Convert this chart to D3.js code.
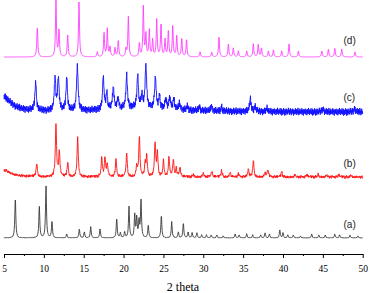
<!DOCTYPE html>
<html>
<head>
<meta charset="utf-8">
<script src="https://cdn.jsdelivr.net/npm/d3@7"></script>
<style>
  html, body { margin: 0; padding: 0; background: #fff; }
  svg { display: block; }
</style>
</head>
<body>
<div id="chart"></div>
<script>
// peak lists: [2theta, height, (optional half-width)]
const peaksA = [[6.42,41],[9.43,32],[10.27,53],[11.02,17],[12.87,4],[14.45,9],[15.08,6],[15.88,11],[17.05,9],
  [19.14,20],[19.6,5],[20.14,6],[20.68,31],[21.4,23],[21.65,20],[21.94,17],[22.19,38],[23.1,13],[24.74,23],
  [26.04,16],[26.87,6],[27.5,15],[28.1,6],[28.6,5],[29.2,5],[29.8,3],[30.4,3],[31.0,3],[31.7,3],[32.5,2],
  [34.0,4],[34.5,3],[35.45,4],[36.2,3],[37.2,3],[37.75,5],[38.3,4],[39.6,8],[40.0,5],[40.6,3],[41.3,3],
  [42.2,2],[43.6,4],[44.5,3],[45.3,3],[46.5,4],[47.1,3],[48.4,3],[49.4,2]];

const peaksB = [[5.0,7,1.0],[9.1,14],[11.52,52],[11.94,25],[12.99,15],[14.24,39],[17.26,19],[17.67,19],[17.96,13],
  [19.05,17],[20.39,23],[21.65,10],[21.98,40],[22.7,12],[22.9,20],[23.95,33],[24.24,23],[25.0,16],[25.7,20],
  [26.24,17],[26.6,8],[27.08,10],[28.75,3],[30.0,4],[31.06,6],[32.3,7],[33.36,5],[34.4,3],[35.65,7],[36.28,17],
  [37.75,4],[38.1,8],[39.84,5],[41.5,2],[43.0,2],[44.4,3],[45.5,2],[47.0,2],[48.5,2]];

const peaksC = [[4.8,16,1.2],[22,4,5],[8.97,28],[11.4,32],[11.82,33],[12.87,33],[14.2,46],[17.46,32],[17.9,15],
  [18.71,22],[19.3,10],[20.39,33],[21.77,32],[22.3,12],[22.8,43],[23.99,31],[24.5,12],[25.3,10],[25.8,12],
  [26.3,10],[27.0,7],[28.0,4],[29.5,4],[31.0,5],[32.3,4],[35.9,13],[36.5,5],[38.0,3],[45.0,3],[49.0,3]];

const peaksD = [[9.18,31],[11.52,56],[11.9,28],[12.99,22],[14.41,56],[16.71,5],[17.55,24],[17.96,28],[18.3,10],
  [18.93,9],[19.34,17],[20.3,8],[20.6,40],[21.98,14],[22.48,50],[22.8,22],[23.23,27],[23.65,17],[24.16,37],
  [24.7,34],[25.2,17],[25.62,27],[26.17,31],[26.67,21],[27.3,19],[27.9,18],[29.6,5],[31.06,5],[31.97,20],
  [33.15,13],[33.77,9],[34.4,6],[35.45,6],[36.28,13],[36.9,13],[37.3,9],[38.17,6],[38.8,7],[39.84,6],
  [40.76,13],[41.93,6],[44.87,6],[45.7,8],[46.5,9],[47.37,8],[49.04,5]];

// hand-typed jitter for the noisy patterns
const jitter = [0.3,-0.8,0.5,-0.2,0.9,-0.6,0.1,-1.0,0.7,-0.3,0.4,-0.9,0.8,0.0,-0.5,0.6,-0.7,0.2,-0.4,1.0,
  -0.1,0.5,-0.8,0.3,-0.6,0.9,-0.2,0.7,-0.9,0.1,0.4,-0.5,0.8,-0.3,0.6,-1.0,0.2,-0.7,0.5,0.0,-0.4,0.9,-0.6,
  0.3,-0.8,0.7,-0.1,0.4,-0.5,1.0,-0.9,0.2,-0.3,0.6,-0.7,0.8,-0.2,0.1,-0.6,0.5,-0.4,0.9,-0.8,0.3,-0.1,0.7,
  -1.0,0.4,-0.3,0.6,-0.5,0.2,0.8,-0.7,0.0,-0.2,0.5,-0.9,0.7,-0.4,0.3,-0.6,1.0,-0.1,0.2,-0.8,0.6,-0.3,0.4,
  -0.5,0.9,-0.7,0.1,-0.2,0.8,-1.0,0.5];

const seriesNames = ['(a)', '(b)', '(c)', '(d)'];
const seriesPeaks = [peaksA, peaksB, peaksC, peaksD];
const seriesColors = ['#3a3a3a', '#ff1010', '#1010ff', '#ff40ff'];
const seriesOffsets = [16, 77, 142, 197];   // baseline of each stacked pattern
const seriesWidths = [0.07, 0.09, 0.11, 0.07];
const seriesNoise = [0.3, 1.5, 3.8, 0];
const labelY = [228, 167, 100.5, 43.5];

const xTicks = [5, 10, 15, 20, 25, 30, 35, 40, 45, 50];
const xMinor = [7.5, 12.5, 17.5, 22.5, 27.5, 32.5, 37.5, 42.5, 47.5];

const W = 370, H = 293;
const svg = d3.select('#chart').append('svg').attr('width', W).attr('height', H);

const x = d3.scaleLinear().domain([5, 50]).range([4, 362.7]);
const y = d3.scaleLinear().domain([0, 254]).range([254, 0]);

function profile(peaks, w, offset, noise, shift) {
  const pts = [];
  const step = 0.04;
  for (let i = 0; 5 + i * step <= 50.0001; i++) {
    const t = 5 + i * step;
    let v = 0;
    peaks.forEach(p => {
      const hw = p[2] || w;
      const d = t - p[0];
      v += p[1] * hw * hw / (hw * hw + d * d);
    });
    v += noise * jitter[(i * shift) % jitter.length];
    pts.push([t, offset + v]);
  }
  return pts;
}

const line = d3.line().x(d => x(d[0])).y(d => y(d[1]));

seriesPeaks.forEach((pk, k) => {
  svg.append('path')
    .attr('d', line(profile(pk, seriesWidths[k], seriesOffsets[k], seriesNoise[k], [1, 7, 1, 1][k])))
    .attr('fill', 'none')
    .attr('stroke', seriesColors[k])
    .attr('stroke-width', 0.9);

  svg.append('text')
    .attr('x', 343.5).attr('y', labelY[k])
    .attr('font-family', 'Liberation Sans, Arial, sans-serif')
    .attr('font-size', 10)
    .attr('fill', '#222')
    .text(seriesNames[k]);
});

// -- x axis -----------------------------------------------------------------
const ax = svg.append('g').attr('transform', 'translate(0,254)')
  .call(d3.axisBottom(x).tickValues(xTicks).tickSize(4).tickSizeOuter(0).tickPadding(7));
ax.selectAll('text')
  .attr('font-family', 'Liberation Serif, Times New Roman, serif')
  .attr('font-size', 9.5).attr('fill', '#000');

svg.append('g').attr('transform', 'translate(0,254)')
  .call(d3.axisBottom(x).tickValues(xMinor).tickSize(2).tickFormat(''))
  .select('.domain').remove();

svg.selectAll('.domain, .tick line').attr('stroke', '#000');

svg.append('text')
  .attr('x', 183).attr('y', 291)
  .attr('text-anchor', 'middle')
  .attr('font-family', 'Liberation Serif, Times New Roman, serif')
  .attr('font-size', 12)
  .text('2 theta');
</script>
</body>
</html>
